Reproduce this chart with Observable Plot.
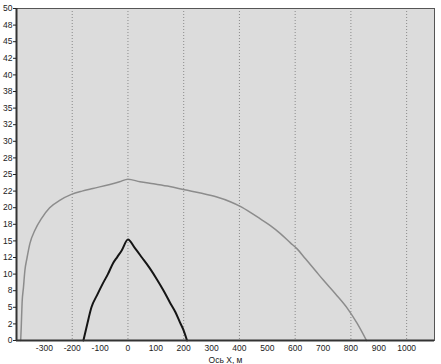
<!DOCTYPE html>
<html>
<head>
<meta charset="utf-8">
<script src="https://cdn.jsdelivr.net/npm/d3@7"></script>
<script src="https://cdn.jsdelivr.net/npm/@observablehq/plot@0.6"></script>
<style>
  html, body { margin: 0; padding: 0; background: #ffffff; }
  #chart svg { display: block; }
</style>
</head>
<body>
<div id="chart"></div>
<script>
// Outer (gray) curve
const grayX = [-385, -383, -380, -375, -370, -362, -352, -334, -310, -281, -245, -203, -165, -126, -65, -30, 0, 43, 91, 150, 203, 260, 319, 367, 403, 439, 475, 511, 547, 583, 607, 637, 673, 701, 745, 788, 822, 856];
const grayY = [0, 2, 5.6, 8, 10.5, 12.5, 14.6, 16.6, 18.4, 20.0, 21.1, 22.0, 22.5, 22.9, 23.5, 23.9, 24.3, 23.9, 23.6, 23.2, 22.7, 22.2, 21.6, 20.9, 20.2, 19.3, 18.3, 17.3, 16.1, 14.7, 13.8, 12.3, 10.5, 9.1, 7.0, 4.8, 2.6, 0];
// Inner (black) curve
const blackX = [-160, -146, -131, -110, -90, -72, -54, -38, -22, 0, 25, 50, 78, 104, 128, 151, 170, 187, 200, 212];
const blackY = [0, 2.5, 5, 6.9, 8.6, 10, 11.6, 12.6, 13.6, 15.2, 13.9, 12.5, 10.9, 9.2, 7.5, 5.7, 4.3, 2.7, 1.5, 0];

const xTicks = [-300, -200, -100, 0, 100, 200, 300, 400, 500, 600, 700, 800, 900, 1000];
const xGrid = [-200, 0, 200, 400, 600, 800, 1000];
const yTickValues = [0, 2.5, 5, 7.5, 10, 12.5, 15, 17.5, 20, 22.5, 25, 27.5, 30, 32.5, 35, 37.5, 40, 42.5, 45, 47.5, 50];
const yTickLabels = ["0", "2", "5", "8", "10", "12", "15", "18", "20", "22", "25", "28", "30", "32", "35", "38", "40", "42", "45", "48", "50"];
const xLabel = "Ось X, м";

const gray = grayX.map((x, i) => ({x, y: grayY[i]}));
const black = blackX.map((x, i) => ({x, y: blackY[i]}));

const chart = Plot.plot({
  width: 441,
  height: 364,
  marginLeft: 16,
  marginRight: 7,
  marginTop: 8,
  marginBottom: 24,
  style: {fontFamily: "'Liberation Sans', Arial, sans-serif", fontSize: "8.5px", color: "#222", background: "#ffffff"},
  x: {domain: [-400, 1100]},
  y: {domain: [0, 50]},
  marks: [
    Plot.frame({fill: "#dcdcdc", stroke: null}),
    Plot.ruleX(xGrid, {stroke: "#8a8a8a", strokeWidth: 1, strokeDasharray: "1,2"}),
    Plot.line(gray, {x: "x", y: "y", stroke: "#8c8c8c", strokeWidth: 1.5, curve: "monotone-x"}),
    Plot.line(black, {x: "x", y: "y", stroke: "#151515", strokeWidth: 2, curve: "monotone-x"}),
    Plot.frame({stroke: "#555", strokeWidth: 1}),
    Plot.ruleY([0], {stroke: "#333", strokeWidth: 2}),
    Plot.ruleX([-400], {stroke: "#333", strokeWidth: 2}),
    Plot.axisY({ticks: yTickValues, tickFormat: (d, i) => yTickLabels[i], tickSize: 3, tickPadding: 1, label: null, fill: "#222"}),
    Plot.axisX({ticks: xTicks, tickFormat: d => String(d), tickSize: 0, tickPadding: 4, label: xLabel, labelAnchor: "center", labelArrow: "none", labelOffset: 22, fill: "#222"})
  ]
});
document.getElementById("chart").appendChild(chart);
</script>
</body>
</html>
